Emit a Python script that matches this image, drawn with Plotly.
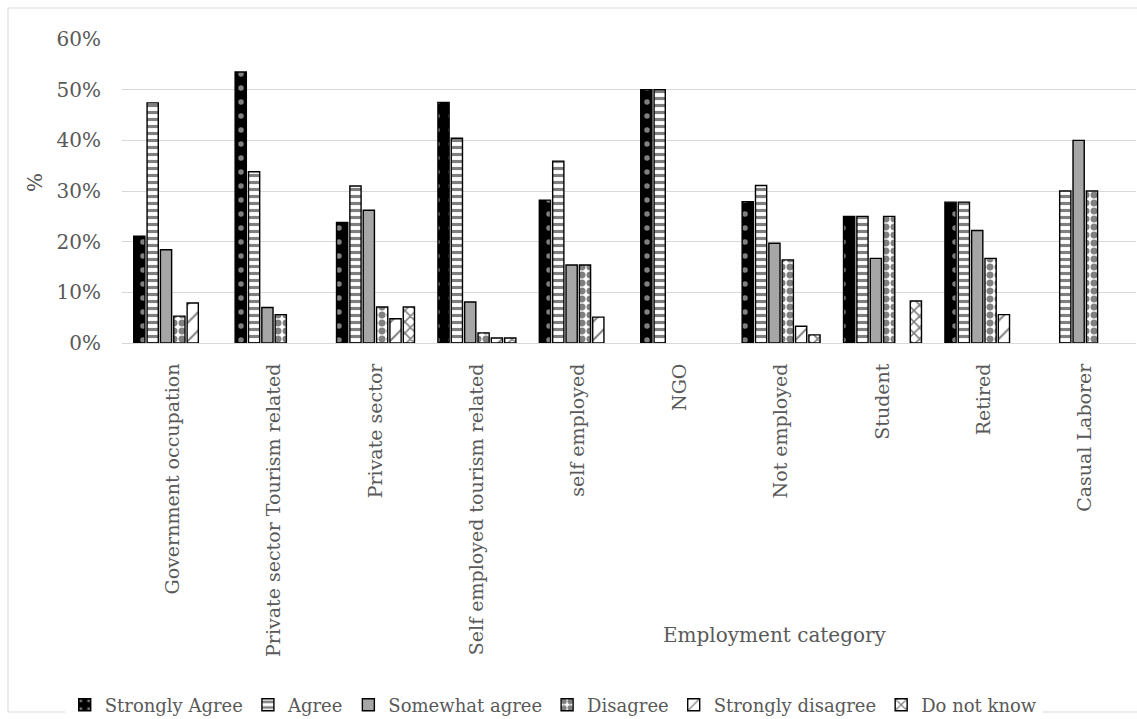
import plotly.graph_objects as go

categories = [
    "Government occupation",
    "Private sector Tourism related",
    "Private sector",
    "Self employed tourism related",
    "self employed",
    "NGO",
    "Not employed",
    "Student",
    "Retired",
    "Casual Laborer",
]

strongly_agree = [21.1, 53.5, 23.8, 47.5, 28.2, 50.0, 27.9, 25.0, 27.8, 0.0]
agree = [47.4, 33.8, 31.0, 40.4, 35.9, 50.0, 31.1, 25.0, 27.8, 30.0]
somewhat_agree = [18.4, 7.0, 26.2, 8.1, 15.4, 0.0, 19.7, 16.7, 22.2, 40.0]
disagree = [5.3, 5.6, 7.1, 2.0, 15.4, 0.0, 16.4, 25.0, 16.7, 30.0]
strongly_disagree = [7.9, 0.0, 4.8, 1.0, 5.1, 0.0, 3.3, 0.0, 5.6, 0.0]
do_not_know = [0.0, 0.0, 7.1, 1.0, 0.0, 0.0, 1.6, 8.3, 0.0, 0.0]

y_ticks = [0, 10, 20, 30, 40, 50, 60]
y_tick_labels = ["0%", "10%", "20%", "30%", "40%", "50%", "60%"]

FONT = "DejaVu Serif"
TEXT = "#595959"
GRID = "#D9D9D9"

# layout geometry (pixels)
W, H = 1137, 719
ML, MR, MT, MB = 122, 1, 39, 376

series = [
    ("Strongly Agree", strongly_agree, dict(shape=".", bgcolor="black", fgcolor="white", size=14, solidity=0.12)),
    ("Agree", agree, dict(shape="-", bgcolor="white", fgcolor="black", size=7, solidity=0.45)),
    ("Somewhat agree", somewhat_agree, dict(shape="")),
    ("Disagree", disagree, dict(shape=".", bgcolor="white", fgcolor="black", size=8, solidity=0.6)),
    ("Strongly disagree", strongly_disagree, dict(shape="/", bgcolor="white", fgcolor="black", size=13, solidity=0.15)),
    ("Do not know", do_not_know, dict(shape="x", bgcolor="white", fgcolor="black", size=8, solidity=0.35)),
]

fig = go.Figure()
for name, vals, pattern in series:
    ys = [v if v > 0 else None for v in vals]
    color = "#A6A6A6" if name == "Somewhat agree" else "white"
    fig.add_trace(go.Bar(
        name=name,
        x=categories,
        y=ys,
        marker=dict(color=color, pattern=pattern, line=dict(color="black", width=1.4)),
    ))

# chart area border
pw = W - ML - MR
ph = H - MT - MB
fig.add_shape(
    type="rect", xref="paper", yref="paper",
    x0=(8 - ML) / pw, x1=(W + 20 - ML) / pw,
    y0=(H - MB - 712) / ph, y1=(H - MB - 8) / ph,
    line=dict(color=GRID, width=1), fillcolor="rgba(0,0,0,0)", layer="below",
)

fig.add_annotation(
    text="Employment category", xref="paper", yref="paper",
    x=(775 - ML) / pw, y=(H - MB - 635) / ph,
    showarrow=False, font=dict(family=FONT, size=20, color=TEXT),
    xanchor="center", yanchor="middle",
)

fig.add_annotation(
    text="%", xref="paper", yref="paper",
    x=(35 - ML) / pw, y=(H - MB - 183) / ph,
    showarrow=False, textangle=-90, font=dict(family=FONT, size=20, color=TEXT),
    xanchor="center", yanchor="middle",
)

fig.update_layout(
    width=W, height=H,
    margin=dict(l=ML, r=MR, t=MT, b=MB, autoexpand=False),
    paper_bgcolor="white", plot_bgcolor="white",
    barmode="group", bargap=0.21, bargroupgap=0.16,
    font=dict(family=FONT, color=TEXT, size=18),
    showlegend=True,
    legend=dict(
        orientation="h", xref="container", yref="container",
        x=0.487, xanchor="center", y=(H - 705) / H, yanchor="middle",
        font=dict(family=FONT, size=18, color=TEXT),
        itemwidth=30, traceorder="normal",
    ),
    xaxis=dict(
        tickangle=-90, showgrid=False, showline=True, linecolor=GRID, linewidth=1,
        tickfont=dict(family=FONT, size=19, color=TEXT), ticks="", ticklabelstandoff=12,
    ),
    yaxis=dict(
        range=[0, 60], tickmode="array", tickvals=y_ticks, ticktext=y_tick_labels,
        showgrid=True, gridcolor=GRID, gridwidth=1, zeroline=False,
        tickfont=dict(family=FONT, size=20, color=TEXT), ticklabelstandoff=20,
    ),
)

fig.write_html("out.html")
